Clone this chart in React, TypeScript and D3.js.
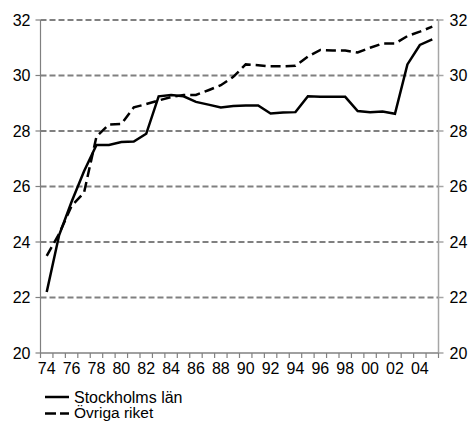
import React from "react";
import * as d3 from "d3";

const years = d3.range(1974, 2006);
const stockholm = [22.2, 24.25, 25.45, 26.55, 27.5, 27.5, 27.6, 27.62, 27.9, 29.25, 29.3, 29.25, 29.05, 28.95, 28.85, 28.9, 28.92, 28.92, 28.63, 28.67, 28.68, 29.25, 29.23, 29.23, 29.23, 28.72, 28.68, 28.7, 28.62, 30.4, 31.1, 31.3];
const ovriga = [23.5, 24.3, 25.3, 25.78, 27.8, 28.23, 28.25, 28.85, 28.97, 29.1, 29.22, 29.3, 29.3, 29.47, 29.65, 29.95, 30.4, 30.37, 30.33, 30.33, 30.35, 30.68, 30.92, 30.9, 30.9, 30.83, 31.0, 31.15, 31.15, 31.42, 31.58, 31.76];
const yTicks = [20, 22, 24, 26, 28, 30, 32];
const seriesNames = ["Stockholms län", "Övriga riket"];

export default function App() {
  const W = 469, H = 421;
  const left = 40.5, right = 438.5, top = 20, bottom = 353;
  const x = d3.scaleBand<number>().domain(years).range([left, right]).padding(0);
  const y = d3.scaleLinear().domain([20, 32]).range([bottom, top]);
  const cx = (yr: number) => (x(yr) as number) + x.bandwidth() / 2;
  const line = d3.line<number>().x((_, i) => cx(years[i])).y((d) => y(d));
  const font = "Liberation Sans, Arial, sans-serif";
  const boundaries = years.map((yr) => x(yr) as number).concat([right]);
  return (
    <svg width={W} height={H} style={{ position: "absolute", left: 0, top: 0, background: "#fff" }} fontFamily={font}>
      {yTicks.filter((t) => t > 20).map((t) => (
        <line key={"g" + t} x1={left} x2={right} y1={y(t)} y2={y(t)} stroke="#808080" strokeWidth={2} strokeDasharray="6,3" />
      ))}
      <line x1={left} x2={left} y1={top} y2={bottom} stroke="#808080" strokeWidth={1.2} />
      <line x1={right} x2={right} y1={top} y2={bottom} stroke="#a6a6a6" strokeWidth={1.5} />
      <line x1={left} x2={right} y1={bottom} y2={bottom} stroke="#808080" strokeWidth={1.5} />
      {yTicks.map((t) => (
        <g key={"t" + t}>
          <line x1={left - 5} x2={left} y1={y(t)} y2={y(t)} stroke="#808080" strokeWidth={1.2} />
          <line x1={right} x2={right + 5} y1={y(t)} y2={y(t)} stroke="#a6a6a6" strokeWidth={1.5} />
          <text x={left - 10} y={y(t)} dy="0.35em" textAnchor="end" fontSize={16}>{t}</text>
          <text x={right + 11} y={y(t)} dy="0.35em" textAnchor="start" fontSize={16}>{t}</text>
        </g>
      ))}
      {boundaries.map((b, i) => (
        <line key={"xt" + i} x1={b} x2={b} y1={bottom} y2={bottom + 5} stroke="#808080" strokeWidth={1.2} />
      ))}
      {years.filter((yr) => yr % 2 === 0).map((yr) => (
        <text key={"xl" + yr} x={cx(yr)} y={bottom + 21} textAnchor="middle" fontSize={16}>{String(yr % 100).padStart(2, "0")}</text>
      ))}
      <path d={line(ovriga) || ""} fill="none" stroke="#000" strokeWidth={2.5} strokeDasharray="10,5" />
      <path d={line(stockholm) || ""} fill="none" stroke="#000" strokeWidth={2.5} />
      <g>
        <line x1={45} x2={69} y1={397} y2={397} stroke="#000" strokeWidth={2.5} />
        <text x={74} y={397} dy="0.35em" fontSize={16}>{seriesNames[0]}</text>
        <line x1={45} x2={69} y1={413.5} y2={413.5} stroke="#000" strokeWidth={2.5} strokeDasharray="11,4" />
        <text x={74} y={413} dy="0.35em" fontSize={15.5}>{seriesNames[1]}</text>
      </g>
    </svg>
  );
}
